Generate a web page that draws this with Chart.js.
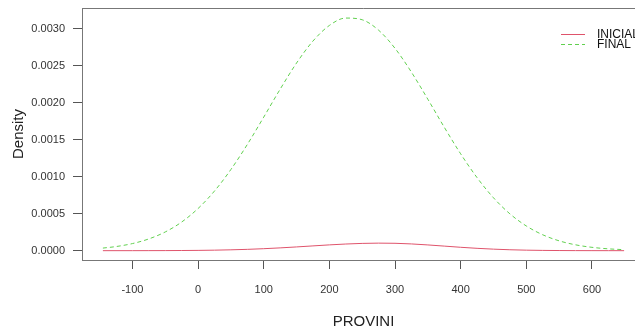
<!DOCTYPE html>
<html>
<head>
<meta charset="utf-8">
<title>Density – PROVINI</title>
<script src="https://cdn.jsdelivr.net/npm/chart.js@4/dist/chart.umd.min.js"></script>
<style>
  html, body { margin: 0; padding: 0; background: #ffffff; overflow: hidden; }
  #wrap { width: 660px; height: 335px; }
</style>
</head>
<body>
<div id="wrap"><canvas id="chart" width="660" height="335"></canvas></div>
<script>
// Evaluation grid for the two kernel density curves
const xValues = [-145, -125, -100, -75, -50, -25, 0, 25, 50, 75, 100, 125, 150, 175, 200, 225,
                 250, 275, 300, 325, 350, 375, 400, 425, 450, 475, 500, 525, 550, 575, 600, 625, 649];

// Density of PROVINI, initial stage
const inicial = [0.00000006, 0.00000012, 0.00000026, 0.00000056, 0.0000011, 0.0000022, 0.0000040,
                 0.0000069, 0.0000115, 0.0000180, 0.0000267, 0.0000378, 0.0000507, 0.0000647,
                 0.0000783, 0.0000900, 0.0000983, 0.0001019, 0.0000998, 0.0000912, 0.0000777,
                 0.0000619, 0.0000459, 0.0000318, 0.0000206, 0.0000124, 0.0000070, 0.0000037,
                 0.0000018, 0.00000082, 0.00000035, 0.00000014, 0.00000005];

// Density of PROVINI, final stage
const final = [0.0000350, 0.0000557, 0.0000959, 0.000159, 0.000253, 0.000387, 0.000570, 0.000806,
               0.001097, 0.001435, 0.001805, 0.002182, 0.002536, 0.002833, 0.003044, 0.003144,
               0.003121, 0.002980, 0.002735, 0.002413, 0.002047, 0.001669, 0.001309, 0.000987,
               0.000715, 0.000498, 0.000334, 0.000215, 0.000133, 0.0000791, 0.0000453, 0.0000249,
               0.0000135];

const seriesNames = ['INICIAL', 'FINAL'];
const xTickValues = [-100, 0, 100, 200, 300, 400, 500, 600];
const yTickValues = [0, 0.0005, 0.0010, 0.0015, 0.0020, 0.0025, 0.0030];

const FONT = 'Liberation Sans, Arial, Helvetica, sans-serif';

const toPoints = ys => xValues.map((x, i) => ({ x: x, y: ys[i] }));

// Frame the top (and right) of the plot region, like a boxed base plot
const plotBox = {
  id: 'plotBox',
  afterDatasetsDraw(chart) {
    const { ctx, chartArea: a } = chart;
    ctx.save();
    ctx.strokeStyle = '#777777';
    ctx.lineWidth = 1;
    ctx.beginPath();
    ctx.moveTo(a.left, a.top + 0.5);
    ctx.lineTo(a.right + 0.5, a.top + 0.5);
    ctx.lineTo(a.right + 0.5, a.bottom);
    ctx.stroke();
    ctx.restore();
  }
};

// Line-sample key in the top right corner of the plot region
const cornerKey = {
  id: 'cornerKey',
  afterDraw(chart) {
    const { ctx, chartArea: a } = chart;
    ctx.save();
    chart.data.datasets.forEach((ds, i) => {
      const y = a.top + 26 + i * 10;
      ctx.strokeStyle = ds.borderColor;
      ctx.lineWidth = 1;
      ctx.setLineDash(ds.borderDash || []);
      ctx.beginPath();
      ctx.moveTo(a.right - 84, y + 0.5);
      ctx.lineTo(a.right - 60, y + 0.5);
      ctx.stroke();
      ctx.setLineDash([]);
      ctx.fillStyle = '#111111';
      ctx.font = '12px ' + FONT;
      ctx.textAlign = 'left';
      ctx.textBaseline = 'middle';
      ctx.fillText(ds.label, a.right - 48, y + 1);
    });
    ctx.restore();
  }
};

// Keep edge tick labels from shrinking the plot region
const noEdgePadding = s => {
  s.paddingTop = 0;
  s.paddingBottom = 0;
  s.paddingLeft = 0;
  s.paddingRight = 0;
};

new Chart(document.getElementById('chart'), {
  type: 'line',
  data: {
    datasets: [
      {
        label: seriesNames[0],
        data: toPoints(inicial),
        borderColor: '#DF536B',
        borderWidth: 1,
        pointRadius: 0,
        fill: false,
        cubicInterpolationMode: 'monotone'
      },
      {
        label: seriesNames[1],
        data: toPoints(final),
        borderColor: '#61D04F',
        borderWidth: 1,
        borderDash: [4, 3],
        pointRadius: 0,
        fill: false,
        cubicInterpolationMode: 'monotone'
      }
    ]
  },
  options: {
    responsive: false,
    animation: false,
    devicePixelRatio: 1,
    layout: { padding: { top: 8, right: 15, bottom: 0, left: 0 } },
    plugins: {
      legend: { display: false },
      tooltip: { enabled: false }
    },
    scales: {
      x: {
        type: 'linear',
        min: -176.8,
        max: 680.8,
        afterBuildTicks: s => { s.ticks = xTickValues.map(v => ({ value: v })); },
        afterFit: s => { s.height = 75; noEdgePadding(s); },
        grid: { drawOnChartArea: false, drawTicks: true, tickLength: 9, color: '#555555', lineWidth: 1 },
        border: { display: true, color: '#777777', width: 1 },
        ticks: {
          padding: 14,
          color: '#333333',
          maxRotation: 0,
          autoSkip: false,
          font: { size: 11, family: FONT },
          callback: v => String(v)
        },
        title: {
          display: true,
          text: 'PROVINI',
          color: '#222222',
          font: { size: 15, family: FONT },
          padding: { top: 0, bottom: 4 }
        }
      },
      y: {
        type: 'linear',
        min: -0.000126,
        max: 0.00328,
        afterBuildTicks: s => { s.ticks = yTickValues.map(v => ({ value: v })); },
        afterFit: s => { s.width = 82; noEdgePadding(s); },
        grid: { drawOnChartArea: false, drawTicks: true, tickLength: 9, color: '#555555', lineWidth: 1 },
        border: { display: true, color: '#777777', width: 1 },
        ticks: {
          padding: 8,
          color: '#333333',
          font: { size: 11, family: FONT },
          callback: v => Number(v).toFixed(4)
        },
        title: {
          display: true,
          text: 'Density',
          color: '#222222',
          font: { size: 15, family: FONT },
          padding: { top: 10, bottom: 0 }
        }
      }
    }
  },
  plugins: [plotBox, cornerKey]
});
</script>
</body>
</html>
